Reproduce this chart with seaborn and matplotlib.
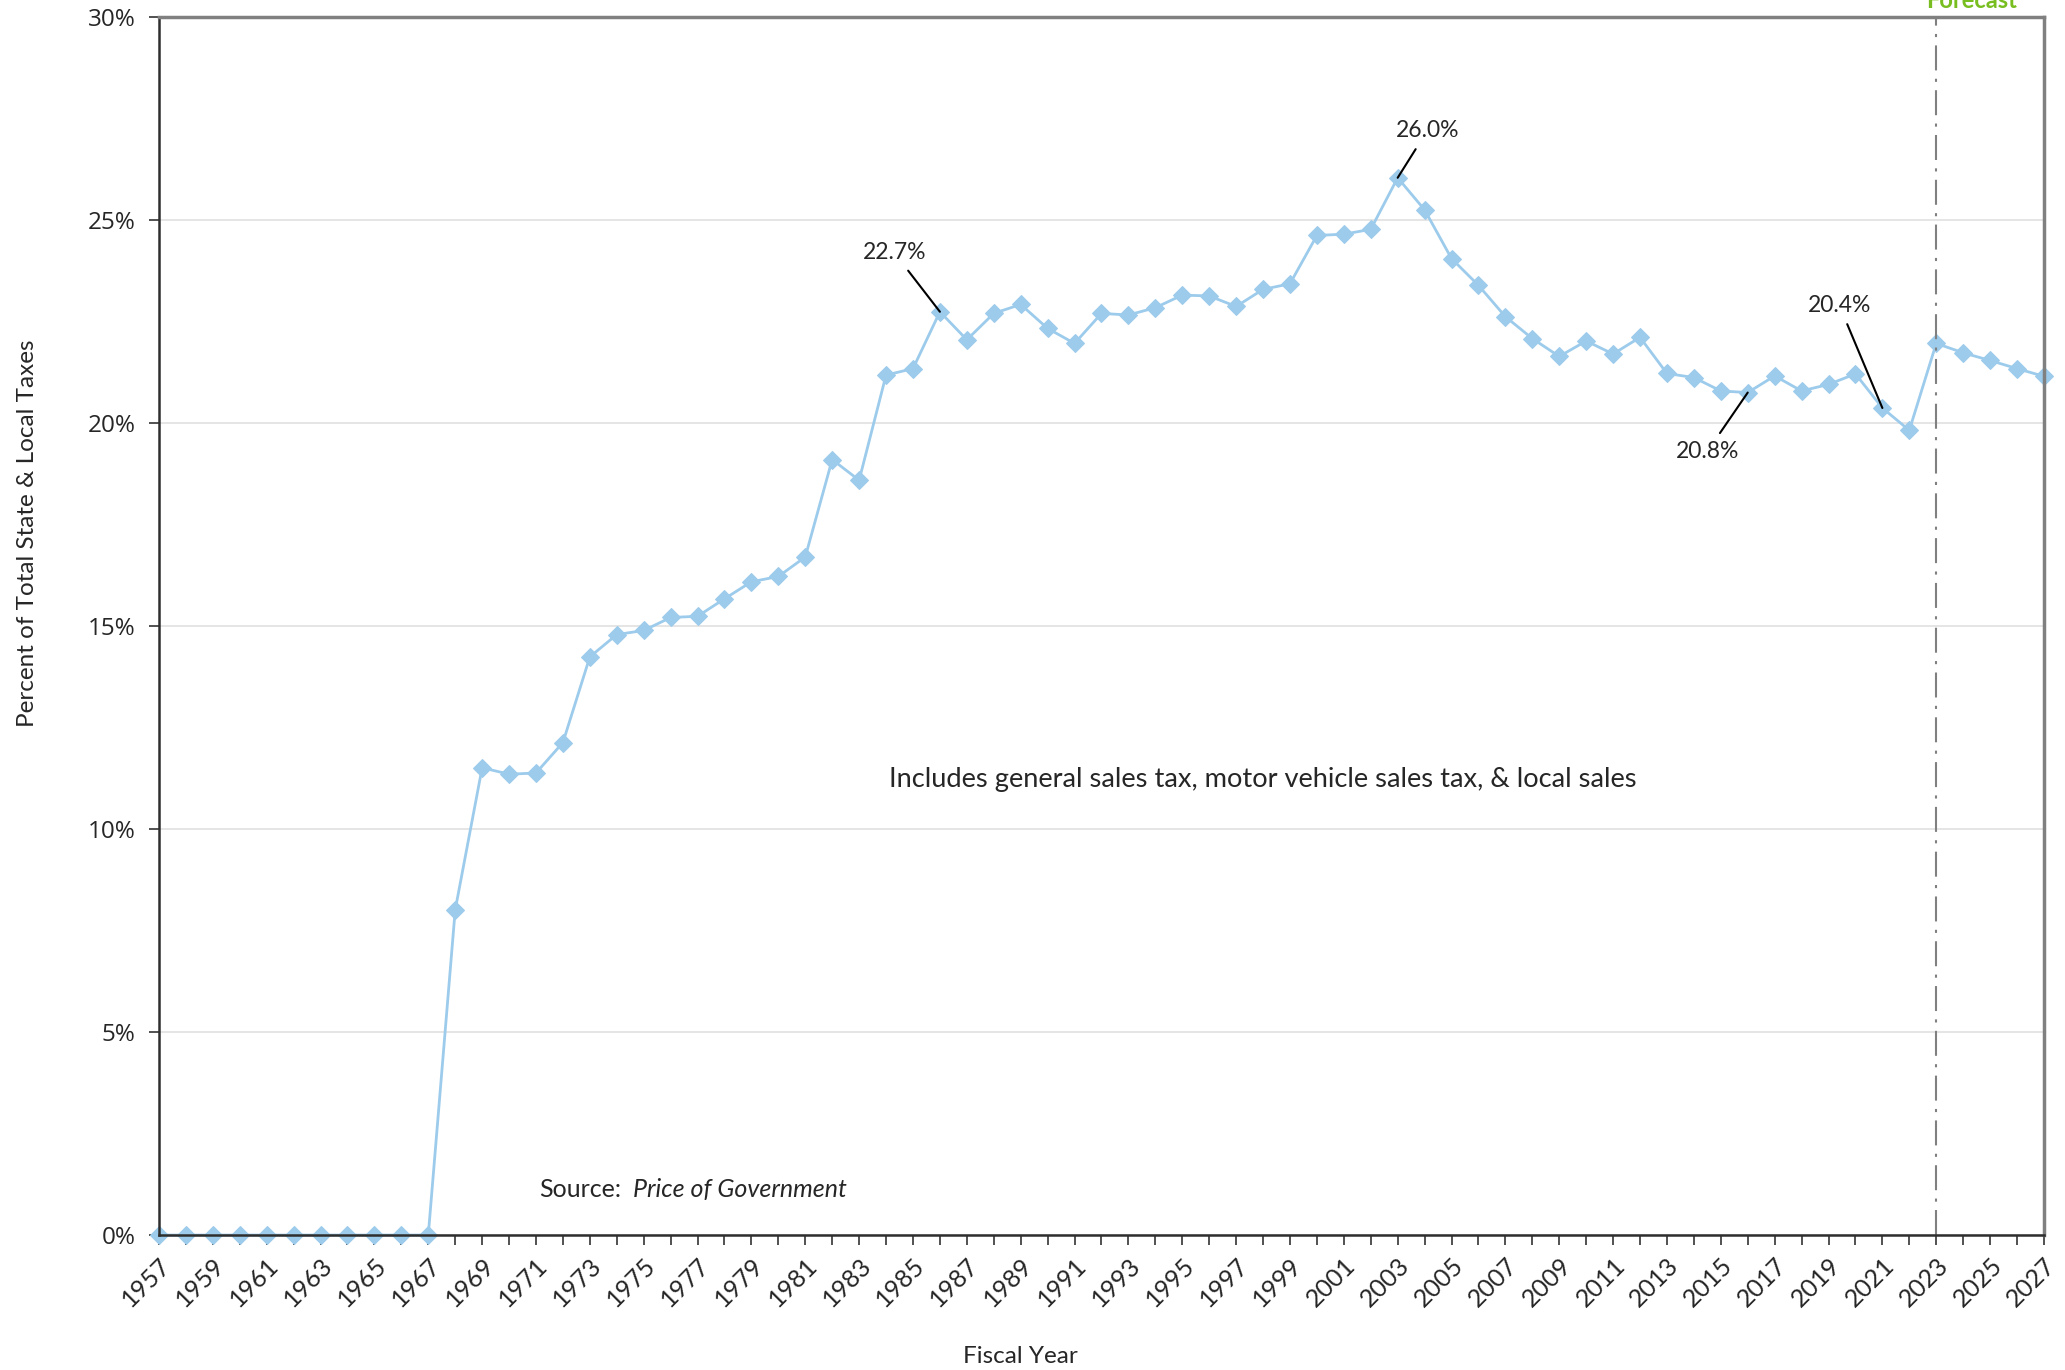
import matplotlib
matplotlib.use("Agg")
import matplotlib.pyplot as plt
import seaborn as sns
import numpy as np
import pandas as pd

# fiscal years and sales tax share (% of total state & local taxes)
years = list(range(1957, 2028))
share = [0, 0, 0, 0, 0, 0, 0, 0, 0, 0, 0,
         8.01, 11.51, 11.35, 11.38, 12.13, 14.24, 14.79, 14.89, 15.21, 15.24,
         15.67, 16.09, 16.22, 16.70, 19.10, 18.59, 21.18, 21.34, 22.74, 22.05,
         22.70, 22.92, 22.33, 21.96, 22.70, 22.66, 22.84, 23.15, 23.13, 22.87,
         23.29, 23.43, 24.62, 24.65, 24.77, 26.04, 25.25, 24.05, 23.39, 22.62,
         22.08, 21.64, 22.02, 21.70, 22.11, 21.22, 21.12, 20.79, 20.75, 21.16,
         20.79, 20.95, 21.21, 20.37, 19.82, 21.96, 21.73, 21.54, 21.34, 21.15]
tick_years = years[::2]
forecast_year = 2023

# labelled points: (year, value, label, text x, text y)
callouts = [(1986, 22.74, "22.7%", 1984.3, 24.2),
            (2003, 26.04, "26.0%", 2004.1, 27.2),
            (2016, 20.75, "20.8%", 2014.5, 19.3),
            (2021, 20.37, "20.4%", 2019.4, 22.9)]

df = pd.DataFrame({"year": years, "share": share})

sns.set_theme(style="white")
plt.rcParams["font.family"] = ["Lato", "DejaVu Sans"]

fig = plt.figure(figsize=(20.65, 13.70), dpi=100)
ax = fig.add_axes([0.077, 0.0985, 0.9128, 0.8891])

blue = "#9CCBEB"
sns.lineplot(data=df, x="year", y="share", ax=ax, color=blue, linewidth=2,
             marker="D", markersize=9, markeredgecolor=blue, clip_on=False)

ax.set_xlim(1957, 2027)
ax.set_ylim(0, 30)
ax.set_xticks(years, minor=True)
ax.set_xticks(tick_years)
ax.set_xticklabels([str(y) for y in tick_years], rotation=45, ha="right",
                   rotation_mode="anchor", fontsize=18)
ax.set_yticks(range(0, 31, 5))
ax.set_yticklabels([f"{v}%" for v in range(0, 31, 5)], fontsize=17.5,
                   family=["Open Sans", "DejaVu Sans"])
ax.tick_params(axis="x", which="both", direction="out", length=7, width=1.2,
               color="#333333", bottom=True, pad=6)
ax.tick_params(axis="y", direction="out", length=7, width=1.2,
               color="#333333", left=True, pad=10)
ax.yaxis.grid(True, color="#E3E3E3", linewidth=1.3)
ax.set_axisbelow(True)
ax.set_xlabel("")
ax.set_ylabel("")

for side in ["left", "bottom"]:
    ax.spines[side].set_color("#2E2E2E")
    ax.spines[side].set_linewidth(1.8)
for side in ["top", "right"]:
    ax.spines[side].set_color("#808080")
    ax.spines[side].set_linewidth(2.5)

ax.axvline(forecast_year, color="#808080", linewidth=1.5,
           linestyle=(0, (12, 4, 1.5, 4)))
ax.text(forecast_year + 1.3, 30.22, "Forecast", color="#78BE20",
        fontsize=17, fontweight="bold", ha="center", va="baseline", clip_on=False)

for yr, val, lab, tx, ty in callouts:
    ax.annotate(lab, xy=(yr, val), xytext=(tx, ty), fontsize=16.5,
                ha="center", va="center",
                arrowprops=dict(arrowstyle="-", color="black", lw=1.5,
                                shrinkA=4, shrinkB=0))

ax.text(1998.0, 11.22, "Includes general sales tax, motor vehicle sales tax, & local sales",
        fontsize=19.6, ha="center", va="center")
ax.text(1971.1, 1.13, "Source:", fontsize=18, ha="left", va="center")
ax.text(1974.6, 1.13, "Price of Government", fontsize=18, style="italic",
        ha="left", va="center")

fig.text(0.0135, 0.611, "Percent of Total State & Local Taxes", rotation=90,
         fontsize=17.5, ha="center", va="center")
fig.text(0.494, 0.0102, "Fiscal Year", fontsize=17.5, ha="center", va="center")

fig.savefig("out.png", dpi=100)
